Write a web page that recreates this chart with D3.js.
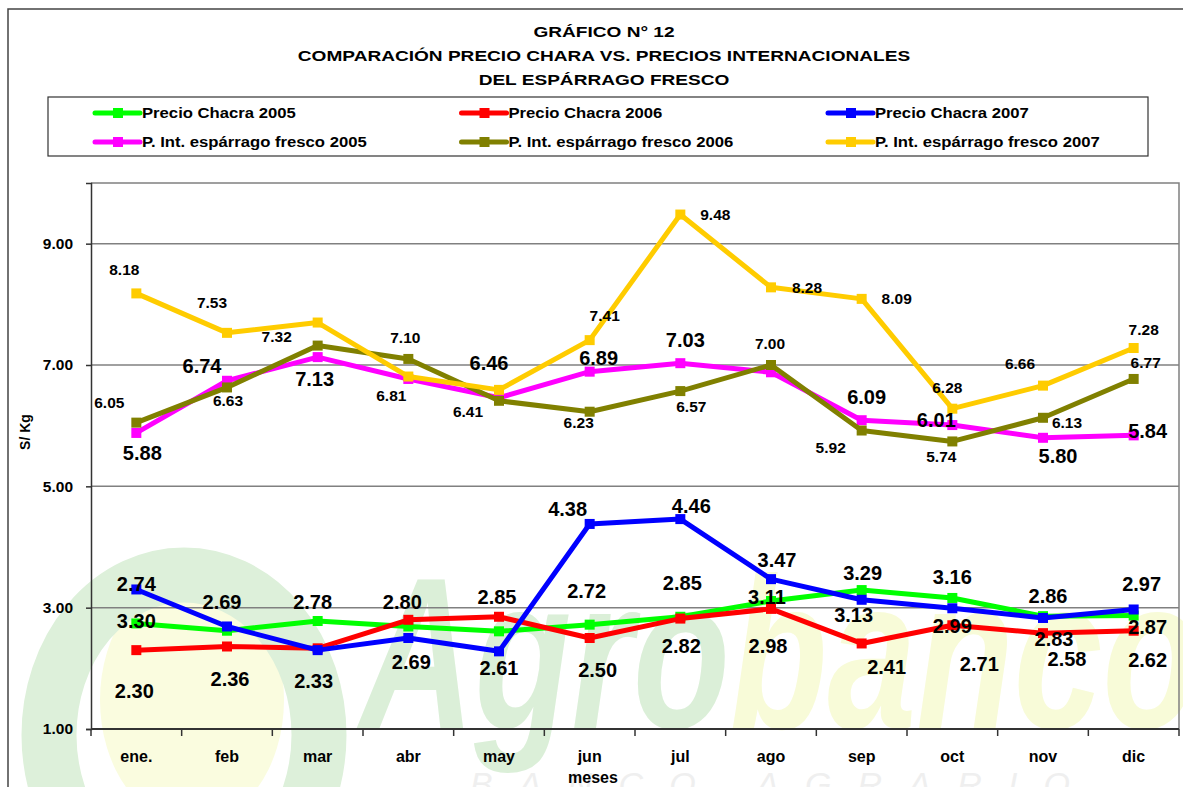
<!DOCTYPE html>
<html>
<head>
<meta charset="utf-8">
<script src="https://cdn.jsdelivr.net/npm/d3@7"></script>
<style>
  body { margin: 0; background: #ffffff; }
  svg text { font-family: "Liberation Sans", Arial, sans-serif; font-weight: bold; fill: #000; }
</style>
</head>
<body>
<div id="id_chart"></div>
<script>
// chart data
const months = ["ene.", "feb", "mar", "abr", "may", "jun", "jul", "ago", "sep", "oct", "nov", "dic"];
const series_names = [
    "Precio Chacra 2005", "Precio Chacra 2006", "Precio Chacra 2007",
    "P. Int. espárrago fresco 2005", "P. Int. espárrago fresco 2006", "P. Int. espárrago fresco 2007"
];
const chacra_2005 = [2.74, 2.62, 2.78, 2.69, 2.61, 2.72, 2.85, 3.11, 3.29, 3.16, 2.86, 2.87];
const chacra_2006 = [2.30, 2.36, 2.33, 2.80, 2.85, 2.50, 2.82, 2.98, 2.41, 2.71, 2.58, 2.62];
const chacra_2007 = [3.30, 2.69, 2.30, 2.50, 2.28, 4.38, 4.46, 3.47, 3.13, 2.99, 2.83, 2.97];
const intl_2005 = [5.88, 6.74, 7.13, 6.77, 6.46, 6.89, 7.03, 6.88, 6.09, 6.01, 5.80, 5.84];
const intl_2006 = [6.05, 6.63, 7.32, 7.10, 6.41, 6.23, 6.57, 7.00, 5.92, 5.74, 6.13, 6.77];
const intl_2007 = [8.18, 7.53, 7.70, 6.81, 6.59, 7.41, 9.48, 8.28, 8.09, 6.28, 6.66, 7.28];
const y_ticks = [1, 3, 5, 7, 9];
const title_lines = ["GRÁFICO N° 12", "COMPARACIÓN PRECIO CHARA VS. PRECIOS INTERNACIONALES", "DEL ESPÁRRAGO FRESCO"];

// styles
const colors = ["#00ff00", "#ff0000", "#0000ff", "#ff00ff", "#808000", "#ffcc00"];
const label_size = [20, 20, 20, 20, 15.5, 15.5];
// data label nudges [dx, dy] from each marker, null = no label (like the original sheet)
const label_nudge = [
    [[0,-40], null, [-5,-19], [3,35], [0,36], [-3,-34], [2,-34], [-4,-4], [1,-17], [0,-21], [5,-20], [14,11]],
    [[-2,41], [3,32], [-4,32], [-6,-18], [-2,-20], [8,32], [1,27], [-3,37], [25,23], [27,39], [24,26], [14,29]],
    [[0,31], [-5,-25], null, null, null, [-22,-15], [11,-13], [6,-19], [-8,15], [0,18], [11,21], [8,-26]],
    [[6,20], [-25,-15], [-3,22], null, [-10,-35], [9,-14], [5,-23], null, [5,-23], [-16,-5], [15,18], [14,-5]],
    [[-27,-20], [1,13], [-41,-9], [-3,-22], [-31,11], [-11,11], [11,15], [-1,-22], [-31,17], [-11,15], [24,5], [12,-17]],
    [[-12,-24], [-15,-30], null, [-17,19], null, [15,-25], [35,0], [36,0], [35,0], [-5,-21], [-23,-22], [10,-19]]
];

const width = 1183;
const height = 787;
const margin = { left: 91, right: 4, top: 183, bottom: 58 };

var all_values = [chacra_2005, chacra_2006, chacra_2007, intl_2005, intl_2006, intl_2007];
var series = series_names.map(function (name, i) {
    return { name: name, color: colors[i], idx: i, values: all_values[i] };
});

var svg = d3.select("#id_chart")
    .append("svg")
    .attr("width", width)
    .attr("height", height);

// squeeze or widen a text to a given factor of its natural width
function stretch_text(sel, k) {
    sel.each(function () {
        var w = this.getComputedTextLength();
        d3.select(this).attr("textLength", w * k).attr("lengthAdjust", "spacingAndGlyphs");
    });
}

// outer chart frame (runs off the picture on right / bottom)
svg.append("rect")
    .attr("x", 8).attr("y", 9)
    .attr("width", 1250).attr("height", 850)
    .attr("fill", "white")
    .attr("stroke", "#444").attr("stroke-width", 1.5);

// ---- faint Agrobanco watermark behind the plot
var wm = svg.append("g").attr("id", "id_watermark");
wm.append("ellipse")
    .attr("cx", 192).attr("cy", 700).attr("rx", 92).attr("ry", 125)
    .attr("fill", "#fafcdf");
wm.append("ellipse")
    .attr("cx", 184).attr("cy", 735).attr("rx", 135).attr("ry", 160)
    .attr("fill", "none").attr("stroke", "#ddf0da").attr("stroke-width", 55);
wm.append("text")
    .attr("x", 360).attr("y", 728)
    .style("font-size", "215px").style("font-style", "italic")
    .style("fill", "#dbefd8")
    .attr("textLength", 370).attr("lengthAdjust", "spacingAndGlyphs")
    .text("Agro");
wm.append("text")
    .attr("x", 730).attr("y", 728)
    .style("font-size", "215px").style("font-style", "italic")
    .style("fill", "#f8fbd8")
    .attr("textLength", 470).attr("lengthAdjust", "spacingAndGlyphs")
    .text("banco");
wm.append("text")
    .attr("x", 470).attr("y", 796)
    .style("font-size", "34px").style("font-style", "italic").style("font-weight", "normal")
    .style("fill", "#efefef")
    .attr("textLength", 600).attr("lengthAdjust", "spacing")
    .text("BANCO AGRARIO");

// ---- title
svg.selectAll(".title_line")
    .data(title_lines)
    .enter()
    .append("text")
    .attr("class", "title_line")
    .attr("x", 604)
    .attr("y", function (d, i) { return 37 + i * 24; })
    .attr("text-anchor", "middle")
    .style("font-size", "15.5px")
    .text(function (d) { return d; })
    .call(stretch_text, 1.23);

// ---- legend
var legend = svg.append("g").attr("id", "id_legend");
legend.append("rect")
    .attr("x", 48).attr("y", 97)
    .attr("width", 1100).attr("height", 59)
    .attr("fill", "white")
    .attr("stroke", "#333").attr("stroke-width", 1.2);
var legend_items = legend.selectAll(".legend_item")
    .data(series)
    .enter()
    .append("g")
    .attr("class", "legend_item")
    .attr("transform", function (d) {
        var col = d.idx % 3, row = Math.floor(d.idx / 3);
        return "translate(" + (95 + col * 366.5) + "," + (113 + row * 29) + ")";
    });
legend_items.append("line")
    .attr("x1", 0).attr("x2", 45)
    .attr("stroke", function (d) { return d.color; })
    .attr("stroke-width", 5)
    .attr("stroke-linecap", "round");
legend_items.append("rect")
    .attr("x", 18).attr("y", -5)
    .attr("width", 10).attr("height", 10)
    .attr("fill", function (d) { return d.color; });
legend_items.append("text")
    .attr("x", 47).attr("dy", "0.36em")
    .style("font-size", "14px")
    .text(function (d) { return d.name; })
    .call(stretch_text, 1.19);

// ---- scales
var x = d3.scaleBand()
    .domain(months)
    .range([margin.left, width - margin.right])
    .padding(0);
var y = d3.scaleLinear()
    .domain([1, 10])
    .range([height - margin.bottom, margin.top]);
var xc = function (i) { return x(months[i]) + x.bandwidth() / 2; };

// plot frame: top + right in gray
svg.append("path")
    .attr("d", "M" + margin.left + "," + y(10) + "H" + x.range()[1] + "V" + y(1))
    .attr("fill", "none")
    .attr("stroke", "#808080").attr("stroke-width", 1.5);

// gridlines
svg.append("g")
    .selectAll("line")
    .data(y_ticks.filter(function (t) { return t > 1; }))
    .enter()
    .append("line")
    .attr("x1", margin.left).attr("x2", x.range()[1])
    .attr("y1", function (d) { return y(d); })
    .attr("y2", function (d) { return y(d); })
    .attr("stroke", "#808080").attr("stroke-width", 1.5);

// y axis
var y_axis = svg.append("g")
    .attr("transform", "translate(" + margin.left + ",0)")
    .call(d3.axisLeft(y).tickValues(y_ticks).tickFormat(d3.format(".2f")).tickSize(5).tickPadding(13));
y_axis.select(".domain").attr("stroke", "#333").attr("stroke-width", 1.5);
y_axis.selectAll(".tick line").attr("stroke", "#333").attr("stroke-width", 1.5);
y_axis.selectAll("text").style("font-size", "15.5px").style("font-family", null);

// x axis: ticks on category boundaries
var x_axis = svg.append("g")
    .attr("transform", "translate(0," + y(1) + ")");
x_axis.append("line")
    .attr("x1", margin.left).attr("x2", x.range()[1])
    .attr("stroke", "#333").attr("stroke-width", 2);
x_axis.selectAll(".xtick")
    .data(months.concat(["end"]))
    .enter()
    .append("line")
    .attr("class", "xtick")
    .attr("x1", function (d, i) { return margin.left + i * x.bandwidth(); })
    .attr("x2", function (d, i) { return margin.left + i * x.bandwidth(); })
    .attr("y1", 0).attr("y2", 7)
    .attr("stroke", "#333").attr("stroke-width", 1.5);
x_axis.selectAll(".xlabel")
    .data(months)
    .enter()
    .append("text")
    .attr("class", "xlabel")
    .attr("x", function (d, i) { return xc(i); })
    .attr("y", 33)
    .attr("text-anchor", "middle")
    .style("font-size", "16px")
    .text(function (d) { return d; });

// axis titles
svg.append("text")
    .attr("x", 593).attr("y", 783)
    .attr("text-anchor", "middle")
    .style("font-size", "16px")
    .text("meses");
svg.append("text")
    .attr("transform", "translate(30," + 432 + ") rotate(-90)")
    .attr("text-anchor", "middle")
    .style("font-size", "14px")
    .text("S/ Kg");

// ---- lines and square markers
var line = d3.line()
    .x(function (d, i) { return xc(i); })
    .y(function (d) { return y(d); });

var series_g = svg.selectAll(".series")
    .data(series)
    .enter()
    .append("g")
    .attr("class", "series");
series_g.append("path")
    .attr("d", function (d) { return line(d.values); })
    .attr("fill", "none")
    .attr("stroke", function (d) { return d.color; })
    .attr("stroke-width", 5)
    .attr("stroke-linejoin", "round");
series_g.selectAll("rect")
    .data(function (d) { return d.values.map(function (v, i) { return { v: v, i: i, s: d }; }); })
    .enter()
    .append("rect")
    .attr("x", function (d) { return xc(d.i) - 5; })
    .attr("y", function (d) { return y(d.v) - 5; })
    .attr("width", 10).attr("height", 10)
    .attr("fill", function (d) { return d.s.color; });

// ---- data labels on top of everything
var labels = [];
series.forEach(function (s) {
    s.values.forEach(function (v, i) {
        var n = label_nudge[s.idx][i];
        if (n) labels.push({ v: v, i: i, s: s, dx: n[0], dy: n[1] });
    });
});
svg.append("g")
    .selectAll("text")
    .data(labels)
    .enter()
    .append("text")
    .attr("x", function (d) { return xc(d.i) + d.dx; })
    .attr("y", function (d) { return y(d.v) + d.dy; })
    .attr("dy", "0.36em")
    .attr("text-anchor", "middle")
    .style("font-size", function (d) { return label_size[d.s.idx] + "px"; })
    .text(function (d) { return d.v.toFixed(2); });
</script>
</body>
</html>
